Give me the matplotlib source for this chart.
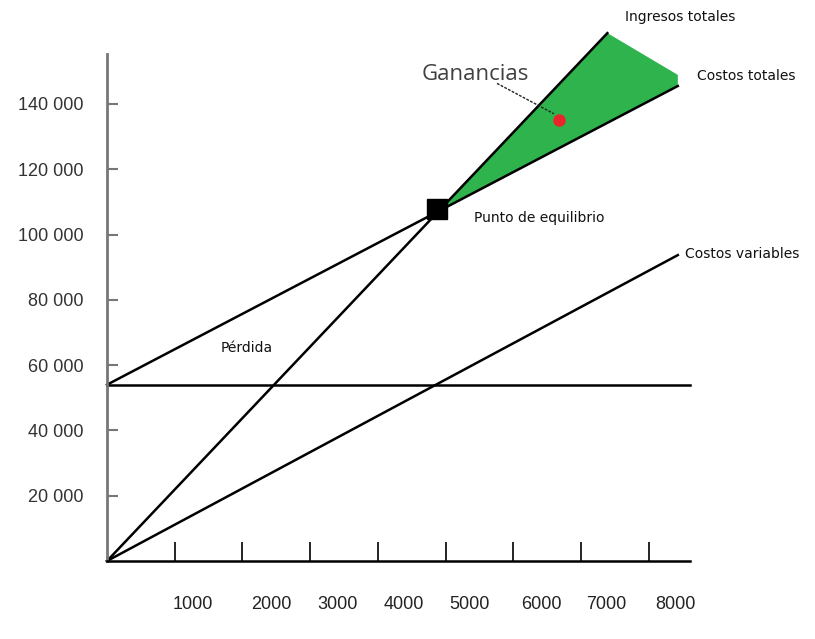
import numpy as np
import matplotlib
matplotlib.use('Agg')
import matplotlib.pyplot as plt

# break-even chart values (units, money)
fixed_cost = 54000
fixed_x = [0, 8610]
revenue_x = [0, 7390]
revenue_y = [0, 161700]
total_cost_x = [0, 8430]
total_cost_y = [54000, 145500]
var_cost_x = [0, 8430]
var_cost_y = [0, 93700]
break_even = (4870, 107800)
profit_x = [4870, 7390, 8430, 8430]
profit_y = [107000, 161700, 148900, 145500]
profit_dot = (6680, 135100)

y_ticks = [20000, 40000, 60000, 80000, 100000, 120000, 140000]
y_labels = ['20 000', '40 000', '60 000', '80 000', '100 000', '120 000', '140 000']
x_ticks = [1000, 2000, 3000, 4000, 5000, 6000, 7000, 8000]
x_labels = ['1000', '2000', '3000', '4000', '5000', '6000', '7000', '8000']
# labels sit off the ticks in the original
x_label_pos = [1270, 2420, 3410, 4380, 5350, 6410, 7380, 8400]

fig = plt.figure(figsize=(8.15, 6.39), dpi=100)
ax = fig.add_axes([107/815, 78/639, 583/815, 507/639])
ax.set_xlim(0, 8610)
ax.set_ylim(0, 155300)

lw = 1.8
ax.fill(profit_x, profit_y, color='#2eb34d', zorder=1, clip_on=False, lw=0)
ax.plot(fixed_x, [fixed_cost, fixed_cost], color='black', lw=lw, clip_on=False)
ax.plot(revenue_x, revenue_y, color='black', lw=lw, clip_on=False)
ax.plot(total_cost_x, total_cost_y, color='black', lw=lw, clip_on=False)
ax.plot(var_cost_x, var_cost_y, color='black', lw=lw, clip_on=False)
ax.plot(*break_even, marker='s', ms=15, color='black', zorder=5, clip_on=False)
ax.plot(*profit_dot, marker='o', ms=8, color='#e8262a', zorder=5)
ax.plot([5760, 6600], [146300, 137000], color='#222222', lw=1, ls=(0, (2, 1)))

for s in ['top', 'right']:
    ax.spines[s].set_visible(False)
ax.spines['left'].set_color('#777777')
ax.spines['left'].set_linewidth(2)
ax.spines['bottom'].set_linewidth(1.8)

ax.set_yticks(y_ticks)
ax.set_yticklabels(y_labels, family='Liberation Sans', fontsize=13, color='#333333')
ax.tick_params(axis='y', direction='in', length=8, width=1.5, color='#777777', pad=17)
ax.set_xticks(x_ticks)
ax.set_xticklabels([])
ax.tick_params(axis='x', direction='in', length=14, width=1.2)
for xp, lab in zip(x_label_pos, x_labels):
    ax.text(xp, -0.085, lab, transform=ax.get_xaxis_transform(), ha='center', va='center',
            family='Liberation Sans', fontsize=13, color='#222222')

small = dict(fontsize=10, color='#111111', va='center', ha='left')
ax.text(7650, 166600, 'Ingresos totales', clip_on=False, **small)
ax.text(8715, 148600, 'Costos totales', clip_on=False, **small)
ax.text(5420, 105100, 'Punto de equilibrio', **small)
ax.text(8540, 94000, 'Costos variables', clip_on=False, **small)
ax.text(1680, 65300, 'Pérdida', **small)
ax.text(5440, 148900, 'Ganancias', fontsize=16, family='Open Sans', color='#404040',
        ha='center', va='center')

plt.savefig('out.png', dpi=100)
